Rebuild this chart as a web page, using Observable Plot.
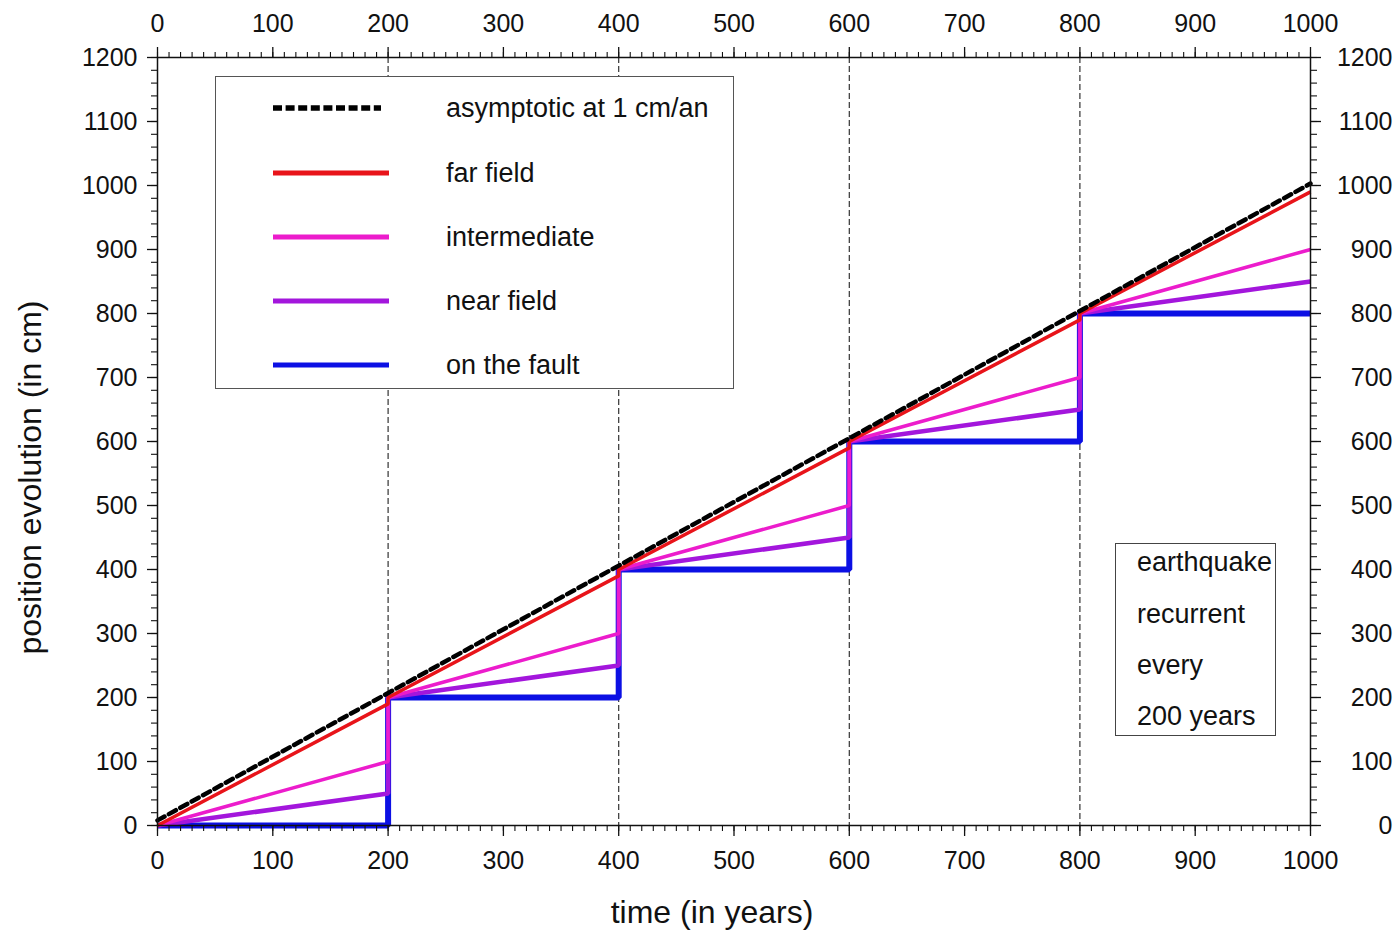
<!DOCTYPE html>
<html>
<head>
<meta charset="utf-8">
<script src="https://cdn.jsdelivr.net/npm/d3@7"></script>
<script src="https://cdn.jsdelivr.net/npm/@observablehq/plot@0.6"></script>
<style>
  body { margin: 0; background: #fff; font-family: "Liberation Sans", Arial, sans-serif; }
  #wrap { position: relative; width: 1398px; height: 930px; overflow: hidden; }
  #wrap svg.plot { display: block; position: absolute; left: 0; top: 0; }
  .legend { position: absolute; left: 215px; top: 76px; width: 517px; height: 311px;
            border: 1.5px solid #555; background: #fff; }
  .legend .row { position: absolute; left: 0; width: 100%; height: 30px; }
  .legend .row svg { position: absolute; left: 57px; top: 0; }
  .legend .row span { position: absolute; left: 230px; top: 0; line-height: 30px; font-size: 27px; color: #111; white-space: nowrap; }
  .note { position: absolute; left: 1115px; top: 543px; width: 159px; height: 191px;
          border: 1.5px solid #444; background: #fff; }
  .note span { position: absolute; left: 21px; height: 30px; line-height: 30px; font-size: 27px; color: #111; white-space: nowrap; }
</style>
</head>
<body>
<div id="wrap"></div>
<script>
// ---------------- data ----------------
const xTickValues = [0, 100, 200, 300, 400, 500, 600, 700, 800, 900, 1000];
const yTickValues = [0, 100, 200, 300, 400, 500, 600, 700, 800, 900, 1000, 1100, 1200];
const xMinorTicks = d3.range(0, 1001, 10);
const yMinorTicks = d3.range(0, 1201, 20);
const earthquakeYears = [200, 400, 600, 800];

const cycleStartYears = [0, 200, 400, 600, 800];
const cycleEndYears = [200, 400, 600, 800, 1000];
const positionAtCycleStart = [0, 200, 400, 600, 800];
const farFieldAtCycleEnd = [190, 390, 590, 790, 990];
const intermediateAtCycleEnd = [100, 300, 500, 700, 900];
const nearFieldAtCycleEnd = [50, 250, 450, 650, 850];
const onFaultAtCycleEnd = [0, 200, 400, 600, 800];

const asymptoticYears = [0, 1000];
const asymptoticPosition = [8, 1003];

const seriesNames = ["asymptotic at 1 cm/an", "far field", "intermediate", "near field", "on the fault"];
const seriesColors = ["#000000", "#e8141a", "#ec1ccc", "#a316dc", "#0c10e4"];

const noteLines = ["earthquake", "recurrent", "every", "200 years"];
const xTitle = "time (in years)";
const yTitle = "position evolution (in cm)";

// ---------------- build tables ----------------
function stepSeries(name, endValues) {
  const rows = [];
  cycleStartYears.forEach((t0, i) => {
    rows.push({series: name, t: t0, p: positionAtCycleStart[i]});
    rows.push({series: name, t: cycleEndYears[i], p: endValues[i]});
  });
  return rows;
}
const farField = stepSeries(seriesNames[1], farFieldAtCycleEnd);
const intermediate = stepSeries(seriesNames[2], intermediateAtCycleEnd);
const nearField = stepSeries(seriesNames[3], nearFieldAtCycleEnd);
const onFault = stepSeries(seriesNames[4], onFaultAtCycleEnd);
const asymptotic = asymptoticYears.map((t, i) => ({series: seriesNames[0], t, p: asymptoticPosition[i]}));

const font = "'Liberation Sans', Arial, sans-serif";
const plain = d => String(d);

const chart = Plot.plot({
  width: 1398,
  height: 930,
  marginLeft: 157,
  marginRight: 88,
  marginTop: 57,
  marginBottom: 105,
  style: {fontFamily: font, fontSize: "25px", color: "#111", background: "#fff"},
  x: {domain: [0, 1000]},
  y: {domain: [0, 1200]},
  marks: [
    Plot.ruleX(earthquakeYears, {stroke: "#333", strokeWidth: 1.2, strokeDasharray: "6,3"}),
    Plot.line(onFault, {x: "t", y: "p", stroke: seriesColors[4], strokeWidth: 6, strokeLinejoin: "miter", strokeLinecap: "butt"}),
    Plot.line(nearField, {x: "t", y: "p", stroke: seriesColors[3], strokeWidth: 4.5, strokeLinejoin: "miter", strokeLinecap: "butt"}),
    Plot.line(intermediate, {x: "t", y: "p", stroke: seriesColors[2], strokeWidth: 3.5, strokeLinejoin: "miter", strokeLinecap: "butt"}),
    Plot.line(farField, {x: "t", y: "p", stroke: seriesColors[1], strokeWidth: 3.5, strokeLinejoin: "miter", strokeLinecap: "butt"}),
    Plot.line(asymptotic, {x: "t", y: "p", stroke: seriesColors[0], strokeWidth: 4.5, strokeDasharray: "8,5"}),
    Plot.frame({stroke: "#111", strokeWidth: 1.5}),
    // minor ticks
    Plot.axisX({anchor: "bottom", ticks: xMinorTicks, tickSize: 6, tickFormat: () => "", label: null, strokeWidth: 1.1}),
    Plot.axisX({anchor: "top", ticks: xMinorTicks, tickSize: 6, tickFormat: () => "", label: null, strokeWidth: 1.1}),
    Plot.axisY({anchor: "left", ticks: yMinorTicks, tickSize: 6, tickFormat: () => "", label: null, strokeWidth: 1.1}),
    Plot.axisY({anchor: "right", ticks: yMinorTicks, tickSize: 6, tickFormat: () => "", label: null, strokeWidth: 1.1}),
    // major ticks + labels
    Plot.axisX({anchor: "bottom", ticks: xTickValues, tickFormat: plain, tickSize: 11, tickPadding: 15, label: null, strokeWidth: 1.3, fontSize: 25}),
    Plot.axisX({anchor: "top", ticks: xTickValues, tickFormat: plain, tickSize: 11, tickPadding: 15, label: null, strokeWidth: 1.3, fontSize: 25}),
    Plot.axisY({anchor: "left", ticks: yTickValues, tickFormat: plain, tickSize: 10, tickPadding: 10, label: null, strokeWidth: 1.3, fontSize: 25}),
    Plot.axisY({anchor: "right", ticks: yTickValues, tickFormat: plain, tickSize: 10, tickPadding: 72, textAnchor: "end", label: null, strokeWidth: 1.3, fontSize: 25}),
    // axis titles
    Plot.text([xTitle], {frameAnchor: "bottom", textAnchor: "middle", dx: -22, dy: 87, lineAnchor: "middle", fontSize: 32, fill: "#111"}),
    Plot.text([yTitle], {frameAnchor: "left", textAnchor: "middle", dx: -127, dy: 36, rotate: -90, lineAnchor: "middle", fontSize: 32, fill: "#111"})
  ]
});
chart.classList.add("plot");
const wrap = document.getElementById("wrap");
wrap.appendChild(chart);

// ---------------- legend ----------------
const legend = document.createElement("div");
legend.className = "legend";
const legendStyles = [
  {width: 5.5, dash: "9,3.6", len: 108},
  {width: 5, dash: null, len: 116},
  {width: 5, dash: null, len: 116},
  {width: 5, dash: null, len: 116},
  {width: 5, dash: null, len: 116}
];
const rowCenters = [31, 96, 160, 224, 288];
seriesNames.forEach((name, i) => {
  const row = document.createElement("div");
  row.className = "row";
  row.style.top = (rowCenters[i] - 15) + "px";
  const st = legendStyles[i];
  row.innerHTML = `<svg width="120" height="30"><line x1="0" x2="${st.len}" y1="15" y2="15" stroke="${seriesColors[i]}" stroke-width="${st.width}" ${st.dash ? `stroke-dasharray="${st.dash}"` : ""}/></svg><span>${name}</span>`;
  legend.appendChild(row);
});
wrap.appendChild(legend);

// ---------------- annotation ----------------
const note = document.createElement("div");
note.className = "note";
const noteCenters = [18, 70, 121, 172];
noteLines.forEach((t, i) => {
  const s = document.createElement("span");
  s.textContent = t;
  s.style.top = (noteCenters[i] - 15) + "px";
  note.appendChild(s);
});
wrap.appendChild(note);
</script>
</body>
</html>
